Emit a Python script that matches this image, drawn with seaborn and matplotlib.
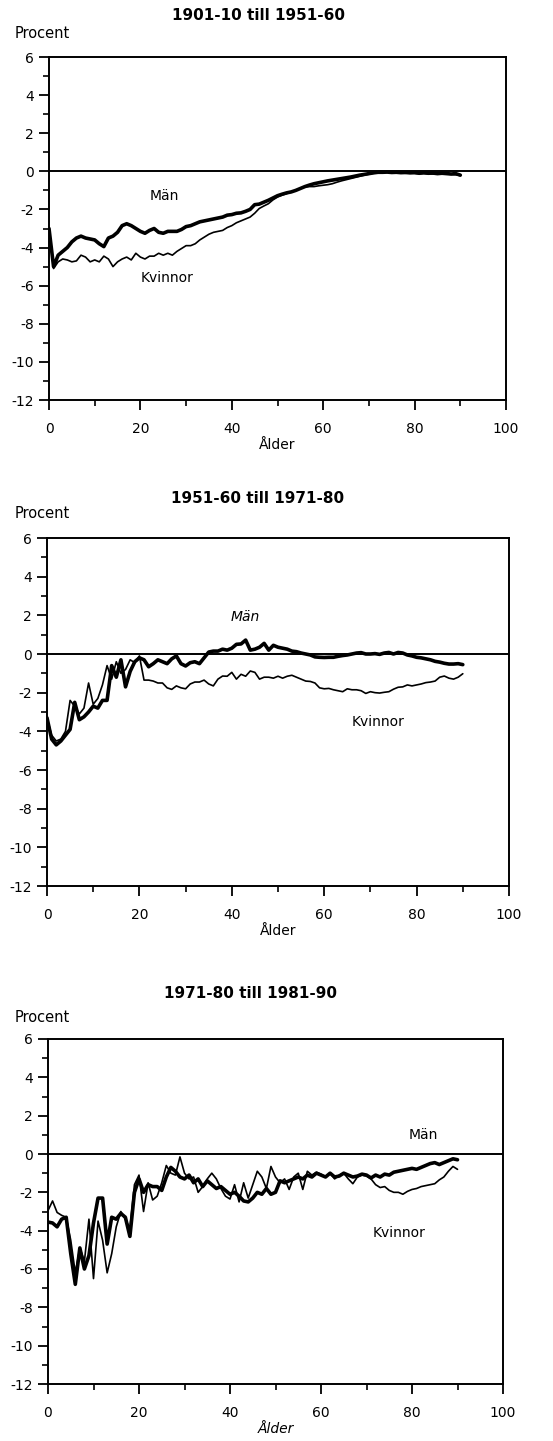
import numpy as np
import pandas as pd
import matplotlib
matplotlib.use("Agg")
import matplotlib.pyplot as plt
import seaborn as sns

# Age axis shared by all three comparisons
ages = list(range(0, 91))

# 1901-10 till 1951-60
man_1 = [-3.0, -5.0, -4.4, -4.2, -4.0, -3.7, -3.5, -3.4, -3.5, -3.55,
         -3.6, -3.8, -3.95, -3.5, -3.4, -3.2, -2.85, -2.75, -2.85, -3.0,
         -3.15, -3.25, -3.1, -3.0, -3.2, -3.25, -3.15, -3.15, -3.15, -3.05,
         -2.9, -2.85, -2.75, -2.65, -2.6, -2.55, -2.5, -2.45, -2.4, -2.3,
         -2.27, -2.2, -2.18, -2.1, -2.0, -1.75, -1.72, -1.62, -1.52, -1.4,
         -1.28, -1.2, -1.13, -1.08, -1.0, -0.9, -0.8, -0.72, -0.65, -0.6,
         -0.55, -0.5, -0.46, -0.42, -0.38, -0.34, -0.3, -0.25, -0.2, -0.16,
         -0.12, -0.08, -0.05, -0.05, -0.04, -0.06, -0.05, -0.07, -0.06, -0.08,
         -0.07, -0.1, -0.08, -0.1, -0.09, -0.12, -0.1, -0.12, -0.14, -0.12,
         -0.2]
kvinnor_1 = [-3.0, -5.1, -4.75, -4.6, -4.65, -4.75, -4.7, -4.4, -4.5, -4.75,
             -4.65, -4.75, -4.45, -4.6, -5.0, -4.75, -4.6, -4.5, -4.65, -4.3,
             -4.5, -4.6, -4.45, -4.45, -4.3, -4.4, -4.3, -4.4, -4.2, -4.05,
             -3.9, -3.9, -3.8, -3.6, -3.45, -3.3, -3.2, -3.15, -3.1, -2.95,
             -2.85, -2.7, -2.6, -2.5, -2.4, -2.2, -1.95, -1.82, -1.7, -1.5,
             -1.35, -1.25, -1.17, -1.08, -1.0, -0.9, -0.82, -0.8, -0.8, -0.76,
             -0.73, -0.7, -0.65, -0.57, -0.5, -0.44, -0.38, -0.32, -0.26, -0.2,
             -0.15, -0.1, -0.08, -0.06, -0.05, -0.07, -0.06, -0.08, -0.1, -0.08,
             -0.1, -0.12, -0.1, -0.12, -0.14, -0.12, -0.15, -0.14, -0.16, -0.18,
             -0.22]

# 1951-60 till 1971-80
man_2 = [-3.3, -4.4, -4.7, -4.5, -4.2, -3.9, -2.5, -3.4, -3.25, -3.0,
         -2.7, -2.8, -2.4, -2.4, -0.6, -1.2, -0.3, -1.7, -0.9, -0.4,
         -0.2, -0.3, -0.66, -0.5, -0.3, -0.4, -0.5, -0.25, -0.1, -0.5,
         -0.62, -0.45, -0.4, -0.5, -0.2, 0.1, 0.15, 0.15, 0.25, 0.2,
         0.3, 0.5, 0.52, 0.72, 0.2, 0.25, 0.35, 0.55, 0.2, 0.45,
         0.35, 0.3, 0.25, 0.15, 0.12, 0.05, 0.0, -0.05, -0.15, -0.17,
         -0.18, -0.17, -0.17, -0.12, -0.08, -0.05, 0.0, 0.05, 0.07, 0.0,
         0.0, 0.02, -0.02, 0.05, 0.08, 0.0, 0.08, 0.05, -0.05, -0.1,
         -0.17, -0.2, -0.25, -0.3, -0.38, -0.42, -0.48, -0.52, -0.52, -0.5,
         -0.55]
kvinnor_2 = [-3.3, -4.2, -4.5, -4.4, -4.0, -2.4, -2.7, -3.1, -2.8, -1.5,
             -2.6, -2.3, -1.6, -0.6, -1.3, -0.4, -1.0, -0.8, -0.3, -0.45,
             -0.1, -1.35, -1.35, -1.4, -1.5, -1.5, -1.75, -1.83, -1.65, -1.75,
             -1.8, -1.55, -1.45, -1.45, -1.35, -1.55, -1.65, -1.3, -1.14, -1.15,
             -0.95, -1.3, -1.05, -1.15, -0.88, -0.95, -1.3, -1.2, -1.2, -1.25,
             -1.15, -1.25, -1.15, -1.1, -1.2, -1.3, -1.4, -1.42, -1.5, -1.75,
             -1.8, -1.78, -1.85, -1.9, -1.95, -1.8, -1.85, -1.85, -1.9, -2.04,
             -1.95, -2.0, -2.02, -1.98, -1.95, -1.82, -1.72, -1.7, -1.6, -1.65,
             -1.6, -1.55, -1.48, -1.45, -1.4, -1.2, -1.14, -1.25, -1.3, -1.2,
             -1.02]

# 1971-80 till 1981-90
man_3 = [-3.55, -3.6, -3.8, -3.4, -3.3, -5.2, -6.8, -4.9, -6.0, -5.3,
         -3.6, -2.3, -2.3, -4.7, -3.3, -3.4, -3.1, -3.3, -4.3, -2.0,
         -1.3, -2.0, -1.6, -1.7, -1.7, -1.9, -1.2, -0.7, -0.9, -1.2,
         -1.3, -1.1, -1.5, -1.3, -1.7, -1.4, -1.6, -1.8, -1.7, -1.9,
         -2.1, -2.0, -2.2, -2.45, -2.5, -2.3, -2.0, -2.1, -1.8, -2.1,
         -2.0, -1.4, -1.5, -1.4, -1.3, -1.2, -1.3, -1.1, -1.2, -1.0,
         -1.1, -1.2, -1.0, -1.2, -1.15, -1.0, -1.1, -1.2, -1.15, -1.05,
         -1.1, -1.25, -1.1, -1.2, -1.05, -1.1, -0.95, -0.9, -0.85, -0.8,
         -0.75, -0.8, -0.7, -0.6, -0.5, -0.45, -0.55, -0.45, -0.35, -0.25,
         -0.3]
kvinnor_3 = [-2.95, -2.45, -3.05, -3.2, -3.3, -4.5, -6.2, -4.9, -5.6, -3.4,
             -6.5, -3.5, -4.5, -6.2, -5.2, -3.8, -3.0, -3.4, -3.9, -1.6,
             -1.1, -3.0, -1.5, -2.4, -2.2, -1.5, -0.6, -1.0, -1.1, -0.15,
             -1.0, -1.3, -1.2, -2.0, -1.7, -1.3, -1.0, -1.3, -1.8, -2.2,
             -2.35, -1.6, -2.5, -1.5, -2.3, -1.6, -0.9, -1.2, -1.8, -0.65,
             -1.2, -1.5, -1.3, -1.85, -1.2, -1.0, -1.85, -0.9, -1.1, -0.95,
             -1.05, -1.2, -1.0, -1.3, -1.1, -1.0, -1.3, -1.55, -1.2, -1.1,
             -1.15, -1.3, -1.6, -1.75, -1.7, -1.9, -2.0, -2.0, -2.1, -1.95,
             -1.85, -1.8, -1.7, -1.65, -1.6, -1.55, -1.35, -1.2, -0.9, -0.65,
             -0.8]

titles = ["1901-10 till 1951-60", "1951-60 till 1971-80", "1971-80 till 1981-90"]
x_ticks = [0, 20, 40, 60, 80, 100]
y_ticks = [6, 4, 2, 0, -2, -4, -6, -8, -10, -12]

sns.set_style("ticks")
plt.rcParams["font.family"] = ["DejaVu Sans"]
plt.rcParams.update({
    "text.color": "black",
    "axes.labelcolor": "black",
    "xtick.color": "black",
    "ytick.color": "black",
    "axes.edgecolor": "black",
})

W, H = 553, 1441
fig = plt.figure(figsize=(W / 100, H / 100), dpi=100)

# panel boxes in pixels: left, right, top, bottom
boxes = [(49, 506, 57, 400), (47, 509, 538, 886), (48, 503, 1039, 1384)]
title_pos = [(258, 15), (258, 498), (251, 993)]
procent_y = [33, 513, 1017]
label_man = [(25.2, -1.3, "normal"), (42.9, 1.9, "italic"), (82.4, 1.0, "normal")]
label_kv = [(25.8, -5.6), (71.6, -3.5), (77.1, -4.1)]
xlabel_style = ["normal", "normal", "italic"]

series = [(man_1, kvinnor_1), (man_2, kvinnor_2), (man_3, kvinnor_3)]

for i in range(3):
    l, r, t, b = boxes[i]
    ax = fig.add_axes([l / W, 1 - b / H, (r - l) / W, (b - t) / H])
    m, k = series[i]
    df = pd.DataFrame({"Ålder": ages, "Män": m, "Kvinnor": k})
    sns.lineplot(data=df, x="Ålder", y="Kvinnor", ax=ax, color="black", lw=1.2)
    sns.lineplot(data=df, x="Ålder", y="Män", ax=ax, color="black", lw=2.6)
    ax.axhline(0, color="black", lw=1.4, zorder=1)

    ax.set_xlim(0, 100)
    ax.set_ylim(-12, 6)
    ax.set_xticks(x_ticks)
    ax.set_xticks(range(10, 100, 20), minor=True)
    ax.set_yticks(y_ticks)
    ax.set_yticks(range(-11, 6, 2), minor=True)
    ax.set_yticklabels([str(v) for v in y_ticks])
    ax.tick_params(which="major", length=7, width=1.3, labelsize=10, color="black",
                   labelcolor="black")
    ax.tick_params(which="minor", length=4, width=1.2, color="black")
    ax.tick_params(axis="x", which="major", pad=9)
    ax.tick_params(axis="y", which="major", pad=4)
    for s in ax.spines.values():
        s.set_visible(True)
        s.set_linewidth(1.4)
        s.set_color("black")

    ax.set_ylabel("")
    ax.set_xlabel("Ålder", fontsize=10, labelpad=1, style=xlabel_style[i], color="black")

    mx, my, mst = label_man[i]
    ax.text(mx, my, "Män", fontsize=10, ha="center", va="center", style=mst, color="black")
    kx, ky = label_kv[i]
    ax.text(kx, ky, "Kvinnor", fontsize=10, ha="center", va="center", color="black")

    tx, ty = title_pos[i]
    fig.text(tx / W, 1 - ty / H, titles[i], fontsize=11, fontweight="bold",
             ha="center", va="center", color="black")
    fig.text(15 / W, 1 - procent_y[i] / H, "Procent", fontsize=10.5,
             ha="left", va="center", color="black")

fig.savefig("out.png", dpi=100, facecolor="white")
